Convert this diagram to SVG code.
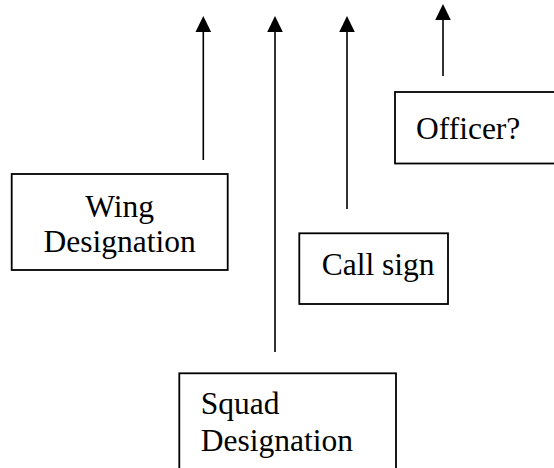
<svg xmlns="http://www.w3.org/2000/svg" width="554" height="468" viewBox="0 0 554 468">
<style>
.box{fill:#fff;stroke:#000;stroke-width:1.8}
.lbl{font-family:'Liberation Serif','DejaVu Serif',serif;font-size:31.5px;fill:#000}
.ln{stroke:#000;stroke-width:1.6;fill:none}
</style>
<rect width="554" height="468" fill="#fff"/>
<g id="connectors">
<line class="ln" x1="203.3" y1="160" x2="203.3" y2="30"/>
<polygon points="203.3,16 195.5,32 211.1,32"/>
<line class="ln" x1="275" y1="352" x2="275" y2="30"/>
<polygon points="275,16 267.2,32 282.8,32"/>
<line class="ln" x1="347" y1="209" x2="347" y2="30"/>
<polygon points="347,16 339.2,32 354.8,32"/>
<line class="ln" x1="443" y1="76" x2="443" y2="18"/>
<polygon points="443,4 435.2,20 450.8,20"/>
</g>
<g id="officer">
<rect class="box" x="395" y="92" width="170" height="71.5"/>
<text class="lbl" x="416" y="139">Officer?</text>
</g>
<g id="wing">
<rect class="box" x="11.7" y="174" width="216" height="96"/>
<text class="lbl" x="119.7" y="216.7" text-anchor="middle">Wing</text>
<text class="lbl" x="119.7" y="251.7" text-anchor="middle">Designation</text>
</g>
<g id="callsign">
<rect class="box" x="299.3" y="233.3" width="148.7" height="70.7"/>
<text class="lbl" x="321.7" y="275">Call sign</text>
</g>
<g id="squad">
<rect class="box" x="179.3" y="373.3" width="216.7" height="110"/>
<text class="lbl" x="200.7" y="414">Squad</text>
<text class="lbl" x="200.7" y="450.7">Designation</text>
</g>
</svg>
